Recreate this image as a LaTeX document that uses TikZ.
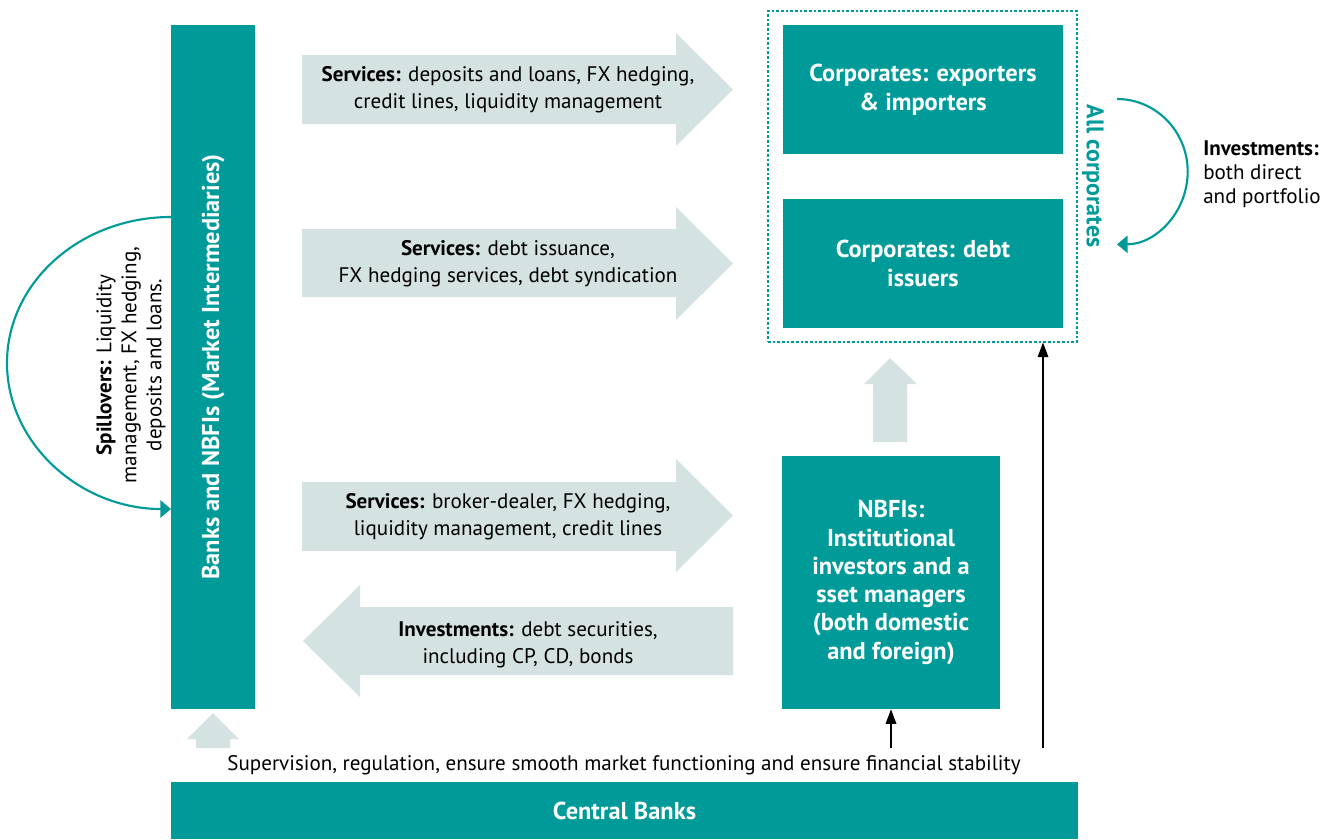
\documentclass[tikz,border=0pt]{standalone}
\usepackage{fontspec}
\setmainfont{PT Sans}
\usetikzlibrary{arrows.meta}
\definecolor{teal1}{RGB}{0,155,153}
\definecolor{lightar}{RGB}{212,226,226}
\begin{document}
\begin{tikzpicture}[x=0.75pt,y=-0.75pt,
  box/.style={fill=teal1, text=white, font=\bfseries\fontsize{18.3}{22}\selectfont, align=center, inner sep=0pt, draw=none},
  lbl/.style={font=\fontsize{15.8}{20}\selectfont, align=center, inner sep=0pt},
  bigarrow/.style={fill=lightar, draw=none},
  blk/.style={draw=black, line width=1pt, -{Triangle[length=11pt,width=8pt]}},
  tarc/.style={draw=teal1, line width=1.6pt, -{Triangle[length=8pt,width=13pt]}}
]
\useasboundingbox (0,0) rectangle (1333,839);

% boxes
\node[box, minimum width=63pt, minimum height=513pt] (bank) at (213,367) {};
\node[box, rotate=90] (banklbl) at (213,367) {Banks and NBFIs (Market Intermediaries)};
\node[box, minimum width=680.25pt, minimum height=42.75pt] (cb) at (624.5,810.5) {Central Banks};
\node[box, minimum width=210pt, minimum height=96.75pt] (corp1) at (923,89.5) {Corporates: exporters\\\& importers};
\node[box, minimum width=210pt, minimum height=96.75pt] (corp2) at (923,263.5) {Corporates: debt\\issuers};
\node[box, minimum width=163.5pt, minimum height=189.75pt, font=\bfseries\fontsize{18.3}{21.2}\selectfont] (nbfi) at (891,582.5) {NBFIs:\\Institutional\\investors and a\\sset managers\\(both domestic\\and foreign)};
\node[draw=teal1, dashed, dash pattern=on 2pt off 1.5pt, line width=0.8pt, minimum width=231.75pt, minimum height=248.25pt, inner sep=0pt] (allc) at (922.5,176.5) {};
\node[font=\bfseries\fontsize{18}{18}\selectfont, text=teal1, rotate=-90, inner sep=0pt] (allclbl) at (1093,176) {All corporates};

% big light arrows
\path[bigarrow] (302,55) -- (676,55) -- (676,33) -- (733,89.5) -- (676,146) -- (676,124) -- (302,124) -- cycle;
\path[bigarrow] (302,229) -- (676,229) -- (676,207) -- (733,263.5) -- (676,320) -- (676,297) -- (302,297) -- cycle;
\path[bigarrow] (302,482) -- (676,482) -- (676,459) -- (733,515.5) -- (676,572) -- (676,551) -- (302,551) -- cycle;
\path[bigarrow] (733,607) -- (360,607) -- (360,585) -- (303,641) -- (360,697) -- (360,675) -- (733,675) -- cycle;
\path[bigarrow] (873,442) -- (873,384) -- (864,384) -- (890,358) -- (917,384) -- (907,384) -- (907,442) -- cycle;
\path[bigarrow] (196,748) -- (196,739) -- (187,739) -- (213,713) -- (239,739) -- (230,739) -- (230,748) -- cycle;

\node[lbl] (t1) at (508,90) {\textbf{Services:} deposits and loans, FX hedging,\\credit lines, liquidity management};
\node[lbl] (t2) at (508,264) {\textbf{Services:} debt issuance,\\FX hedging services, debt syndication};
\node[lbl] (t3) at (508,517) {\textbf{Services:} broker-dealer, FX hedging,\\liquidity management, credit lines};
\node[lbl] (t4) at (528,645) {\textbf{Investments:} debt securities,\\including CP, CD, bonds};

\node[lbl] (sup) at (624,765) {Supervision, regulation, ensure smooth market functioning and ensure financial stability};

% spillovers
\coordinate (sp1) at (171,217);
\draw[tarc] (sp1) arc[start angle=90, end angle=270, x radius=123pt, y radius=109.5pt];
\node[lbl, rotate=90, font=\fontsize{15.8}{18.75}\selectfont] (spl) at (131,365) {\textbf{Spillovers:} Liquidity\\management, FX hedging,\\deposits and loans.};

% investments arc
\coordinate (iv1) at (1117,99);
\draw[tarc] (iv1) arc[start angle=90, end angle=-90, x radius=53pt, y radius=54.5pt];
\node[lbl, align=left, anchor=west, font=\fontsize{15.8}{18}\selectfont] (ivl) at (1203,174) {\textbf{Investments:}\\both direct\\and portfolio};

% black arrows
\coordinate (b1) at (891,748);
\coordinate (b2) at (1043,748);
\draw[blk] (b1) -- (nbfi.south);
\draw[blk] (b2) -- (b2 |- allc.south);
\end{tikzpicture}
\end{document}
